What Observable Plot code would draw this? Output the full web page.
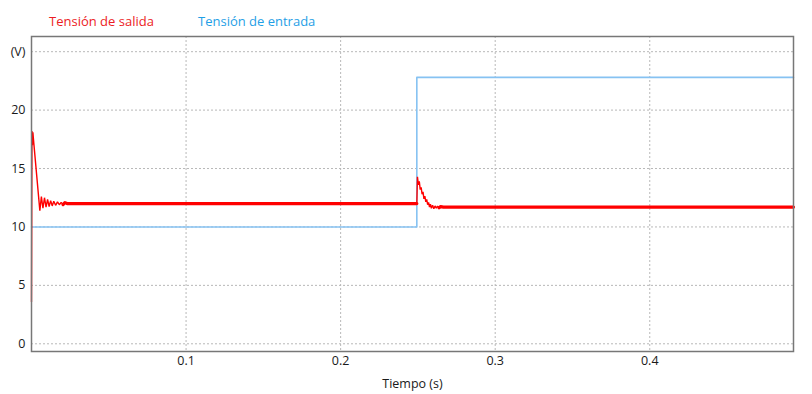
<!DOCTYPE html>
<html>
<head>
<meta charset="utf-8">
<script src="https://cdn.jsdelivr.net/npm/d3@7"></script>
<script src="https://cdn.jsdelivr.net/npm/@observablehq/plot@0.6"></script>
<style>
  html, body { margin: 0; padding: 0; background: #fff; }
  #legend { position: relative; height: 30px; font-family: "Open Sans", sans-serif; font-size: 13px; }
  #legend span { position: absolute; top: 12px; line-height: 18px; white-space: nowrap; }
</style>
</head>
<body>
<div id="legend">
  <span id="lg-out" style="left:49px;color:#ec1c24">Tensión de salida</span>
  <span id="lg-in" style="left:198px;color:#1fa0e6">Tensión de entrada</span>
</div>
<div id="chart"></div>
<script>
// Series names
const seriesNames = ["Tensión de salida", "Tensión de entrada"];

// Input voltage (V) vs time (s)
const timeIn = [0, 0.2493, 0.2493, 0.493];
const vIn    = [10, 10, 22.8, 22.8];

// Output voltage (V) vs time (s)
const timeOut = [0, 0.0003, 0.0006, 0.0009, 0.0012, 0.0054,
  0.0064, 0.0074, 0.0084, 0.0094, 0.0104, 0.0114, 0.0124, 0.0134, 0.0144, 0.0156, 0.0168, 0.018, 0.0192, 0.0204, 0.0216, 0.023, 0.2493,
  0.2497, 0.2503, 0.2509, 0.2515, 0.2521, 0.2527, 0.2533, 0.2539, 0.2545, 0.2551, 0.2557, 0.2563,
  0.2569, 0.2575, 0.2581, 0.2587, 0.2595, 0.2603, 0.2611, 0.2619, 0.2627, 0.2637, 0.2647, 0.2665, 0.493];
const vOut = [3.6, 18.2, 17.0, 18.1, 17.6, 11.4,
  12.6, 11.6, 12.5, 11.7, 12.35, 11.75, 12.25, 11.8, 12.2, 11.85, 12.15, 11.9, 12.1, 11.92, 12.08, 12.0, 12.0,
  14.3, 13.6, 13.9, 13.2, 13.4, 12.8, 13.0, 12.4, 12.65, 12.15, 12.35, 11.9,
  12.1, 11.7, 11.95, 11.6, 11.85, 11.55, 11.8, 11.6, 11.78, 11.64, 11.74, 11.7, 11.7];

// Axis ticks
const xTicks = [0.1, 0.2, 0.3, 0.4];
const yTicks = [0, 5, 10, 15, 20, 25];
const yTickLabels = ["0", "5", "10", "15", "20", "(V)"];
const xLabel = "Tiempo (s)";

const inputData = timeIn.map((t, i) => ({t, v: vIn[i]}));
const outputData = timeOut.map((t, i) => ({t, v: vOut[i]}));
const steady = outputData.filter(d => (d.t >= 0.0204 && d.t <= 0.2493) || d.t >= 0.2637)
  .map(d => ({...d, seg: d.t < 0.25 ? "a" : "b"}));

document.getElementById("lg-out").textContent = seriesNames[0];
document.getElementById("lg-in").textContent = seriesNames[1];

const red = "#ff0000";
const blue = "#86c2f2";

const chart = Plot.plot({
  width: 812,
  height: 364,
  marginTop: 6,
  marginLeft: 31,
  marginRight: 19,
  marginBottom: 43,
  style: {fontFamily: "'Open Sans', sans-serif", fontSize: "12.5px", color: "#1a1a1a", background: "#fff"},
  x: {domain: [0, 0.493]},
  y: {domain: [-0.66, 26.3]},
  marks: [
    Plot.gridX(xTicks, {stroke: "#b8b8b8", strokeOpacity: 1, strokeDasharray: "2,2"}),
    Plot.gridY(yTicks, {stroke: "#b8b8b8", strokeOpacity: 1, strokeDasharray: "2,2"}),
    Plot.line(inputData, {x: "t", y: "v", stroke: blue, strokeWidth: 1.6}),
    Plot.line(outputData, {x: "t", y: "v", stroke: red, strokeWidth: 1.4, strokeLinejoin: "miter"}),
    Plot.line(steady, {x: "t", y: "v", z: "seg", stroke: red, strokeWidth: 3.2}),
    Plot.axisX(xTicks, {tickSize: 0, tickPadding: 5, tickFormat: d => String(d),
      label: xLabel, labelAnchor: "center", labelArrow: "none", labelOffset: 36}),
    Plot.axisY(yTicks, {tickSize: 0, tickPadding: 6,
      tickFormat: d => yTickLabels[yTicks.indexOf(d)], label: null}),
    Plot.frame({stroke: "#777", strokeWidth: 1.5})
  ]
});
document.getElementById("chart").appendChild(chart);
</script>
</body>
</html>
